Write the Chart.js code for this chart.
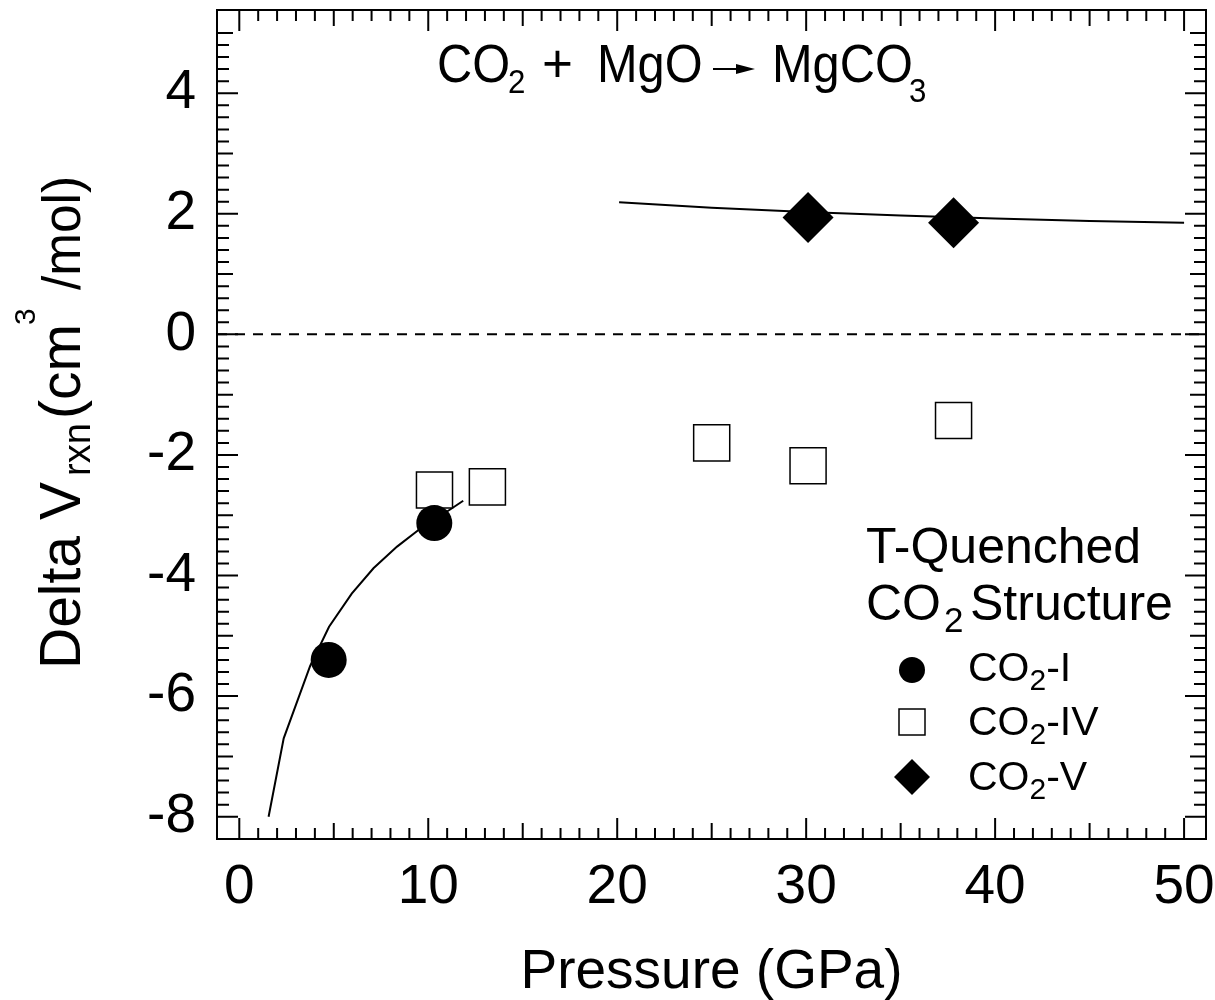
<!DOCTYPE html>
<html>
<head>
<meta charset="utf-8">
<script src="https://cdn.jsdelivr.net/npm/chart.js@4.4.1/dist/chart.umd.min.js"></script>
<style>
  body { margin: 0; background: #fff; }
  canvas { display: block; }
</style>
</head>
<body>
<canvas id="co2Chart" width="1215" height="1000"></canvas>
<script>
// axis ranges and labelled ticks (GPa, cm3/mol)
const xRange = [-1.18, 51.16];
const yRange = [-8.37, 5.38];
const xTickLabels = [0, 10, 20, 30, 40, 50];
const yTickLabels = [-8, -6, -4, -2, 0, 2, 4];

// T-quenched CO2 structures
const co2IPressure = [4.73, 10.32];
const co2IDeltaV = [-5.40, -3.13];
const co2IVPressure = [10.33, 13.13, 25.0, 30.1, 37.8];
const co2IVDeltaV = [-2.58, -2.53, -1.80, -2.18, -1.43];
const co2VPressure = [30.1, 37.8];
const co2VDeltaV = [1.94, 1.85];

// calculated curves
const lowCurvePressure = [1.55, 2.35, 3.75, 4.75, 5.95, 7.1, 8.35, 9.5, 10.7, 11.85];
const lowCurveDeltaV = [-8.0, -6.7, -5.5, -4.85, -4.3, -3.88, -3.52, -3.24, -3.0, -2.76];
const highCurvePressure = [20.1, 25, 30, 35, 40, 45, 50];
const highCurveDeltaV = [2.19, 2.10, 2.03, 1.97, 1.92, 1.88, 1.85];

const FONT = "'Liberation Sans', Arial, sans-serif";
const zip = (xs, ys) => xs.map((v, i) => ({ x: v, y: ys[i] }));

// draws text pieces one after another (sub/superscripts via dy, sx = horizontal squeeze)
function drawRuns(ctx, runs, x, y) {
  let cx = x;
  runs.forEach(r => {
    const sx = r.sx || 1;
    ctx.font = r.size + "px " + FONT;
    if (r.at !== undefined) cx = r.at;
    ctx.save();
    ctx.translate(cx, y + (r.dy || 0));
    ctx.scale(sx, 1);
    ctx.fillText(r.t, 0, 0);
    ctx.restore();
    cx += ctx.measureText(r.t).width * sx + (r.gap || 0);
  });
  return cx;
}

// keep the plot box fixed, no extra room for overhanging labels
function noPadding(s) {
  s.paddingLeft = s.paddingRight = s.paddingTop = s.paddingBottom = 0;
}

const decorations = {
  id: "decorations",
  afterDraw(chart) {
    const { ctx, chartArea: a, scales: { x, y } } = chart;
    ctx.save();
    ctx.strokeStyle = "#000";
    ctx.fillStyle = "#000";
    ctx.lineWidth = 2;

    // frame + inward ticks on all four sides
    ctx.strokeRect(a.left, a.top, a.right - a.left, a.bottom - a.top);
    ctx.beginPath();
    for (let v = 0; v <= 50; v++) {
      const px = x.getPixelForValue(v);
      const len = v % 10 === 0 ? 21 : v % 5 === 0 ? 16 : 11;
      ctx.moveTo(px, a.bottom); ctx.lineTo(px, a.bottom - len);
      ctx.moveTo(px, a.top); ctx.lineTo(px, a.top + len);
    }
    for (let i = -40; i <= 25; i++) {
      const py = y.getPixelForValue(i / 5);
      const len = i % 10 === 0 ? 21 : i % 5 === 0 ? 16 : 12;
      ctx.moveTo(a.left, py); ctx.lineTo(a.left + len, py);
      ctx.moveTo(a.right, py); ctx.lineTo(a.right - len, py);
    }
    ctx.stroke();

    ctx.textAlign = "left";
    ctx.textBaseline = "alphabetic";

    // reaction title
    drawRuns(ctx, [
      { t: "CO", size: 53, sx: 0.92, at: 437 },
      { t: "2", size: 34, sx: 0.92, dy: 11, at: 508 },
      { t: "+", size: 53, at: 542 },
      { t: "MgO", size: 53, sx: 0.92, at: 597 },
      { t: "MgCO", size: 53, sx: 0.92, at: 772 },
      { t: "3", size: 34, sx: 0.92, dy: 20, at: 909 }
    ], 0, 82);
    ctx.lineWidth = 2;
    ctx.beginPath();
    ctx.moveTo(713, 69); ctx.lineTo(740, 69);
    ctx.stroke();
    ctx.beginPath();
    ctx.moveTo(736, 64); ctx.lineTo(755, 69); ctx.lineTo(736, 74);
    ctx.closePath();
    ctx.fill();

    // legend
    drawRuns(ctx, [{ t: "T-Quenched", size: 50 }], 866, 563);
    drawRuns(ctx, [
      { t: "CO", size: 50 },
      { t: "2", size: 35, dy: 12, at: 944 },
      { t: "Structure", size: 50, at: 970 }
    ], 866, 620);
    const entries = [
      { label: "I", y: 681, my: 670, mark: "circle" },
      { label: "IV", y: 735, my: 722, mark: "square" },
      { label: "V", y: 790, my: 777, mark: "diamond" }
    ];
    entries.forEach(e => {
      const my = e.my;
      if (e.mark === "circle") {
        ctx.beginPath(); ctx.arc(912, my, 13, 0, Math.PI * 2); ctx.fill();
      } else if (e.mark === "square") {
        ctx.lineWidth = 1.5;
        ctx.strokeRect(899, my - 13, 26, 26);
      } else {
        ctx.beginPath();
        ctx.moveTo(912, my - 18); ctx.lineTo(930, my); ctx.lineTo(912, my + 18); ctx.lineTo(894, my);
        ctx.closePath(); ctx.fill();
      }
      drawRuns(ctx, [
        { t: "CO", size: 41 },
        { t: "2", size: 30, dy: 9 },
        { t: "-" + e.label, size: 41 }
      ], 968, e.y);
    });

    // y axis title, rotated
    ctx.save();
    ctx.translate(80, 665);
    ctx.rotate(-Math.PI / 2);
    drawRuns(ctx, [
      { t: "Delta V", size: 57, at: -4 },
      { t: "rxn", size: 38, dy: 10, at: 189 },
      { t: "(cm", size: 57, at: 246 },
      { t: "3", size: 30, dy: -45, at: 340 },
      { t: "/mol)", size: 54, sx: 0.95, at: 375 }
    ], 0, 0);
    ctx.restore();

    // x axis title
    ctx.font = "55px " + FONT;
    ctx.textAlign = "center";
    ctx.fillText("Pressure (GPa)", (a.left + a.right) / 2, 988);
    ctx.restore();
  }
};

const ctx = document.getElementById("co2Chart").getContext("2d");

new Chart(ctx, {
  type: "scatter",
  data: {
    datasets: [
      {
        label: "CO2-I",
        data: zip(co2IPressure, co2IDeltaV),
        pointStyle: "circle",
        pointRadius: 18,
        backgroundColor: "#000",
        borderWidth: 0,
      },
      {
        label: "CO2-V",
        data: zip(co2VPressure, co2VDeltaV),
        pointStyle: "rectRot",
        pointRadius: 25.5,
        backgroundColor: "#000",
        borderWidth: 0,
      },
      {
        label: "CO2-IV",
        data: zip(co2IVPressure, co2IVDeltaV),
        pointStyle: "rect",
        pointRadius: 25.5,
        backgroundColor: "#fff",
        borderColor: "#000",
        borderWidth: 1.5,
      },
      {
        label: "low pressure curve",
        data: zip(lowCurvePressure, lowCurveDeltaV),
        showLine: true,
        pointRadius: 0,
        borderColor: "#000",
        borderWidth: 2,
      },
      {
        label: "high pressure curve",
        data: zip(highCurvePressure, highCurveDeltaV),
        showLine: true,
        pointRadius: 0,
        borderColor: "#000",
        borderWidth: 2,
      },
      {
        label: "zero",
        data: zip(xRange, [0, 0]),
        showLine: true,
        pointRadius: 0,
        borderColor: "#000",
        borderWidth: 2,
        borderDash: [10, 8],
      },
    ],
  },
  options: {
    responsive: false,
    animation: false,
    layout: { autoPadding: false, padding: { top: 10, right: 9, left: 0, bottom: 0 } },
    plugins: {
      legend: { display: false },
      tooltip: { enabled: false },
    },
    scales: {
      x: {
        type: "linear",
        min: xRange[0],
        max: xRange[1],
        afterBuildTicks: (s) => { s.ticks = xTickLabels.map(v => ({ value: v })); },
        afterFit: (s) => { s.height = 161; noPadding(s); },
        grid: { display: false },
        border: { display: false },
        ticks: { color: "#000", font: { family: FONT, size: 55 }, padding: 8, maxRotation: 0, autoSkip: false },
      },
      y: {
        type: "linear",
        min: yRange[0],
        max: yRange[1],
        afterBuildTicks: (s) => { s.ticks = yTickLabels.map(v => ({ value: v })); },
        afterFit: (s) => { s.width = 217; noPadding(s); },
        grid: { display: false },
        border: { display: false },
        ticks: { color: "#000", font: { family: FONT, size: 55 }, padding: 13, autoSkip: false },
      },
    },
  },
  plugins: [decorations],
});
</script>
</body>
</html>
